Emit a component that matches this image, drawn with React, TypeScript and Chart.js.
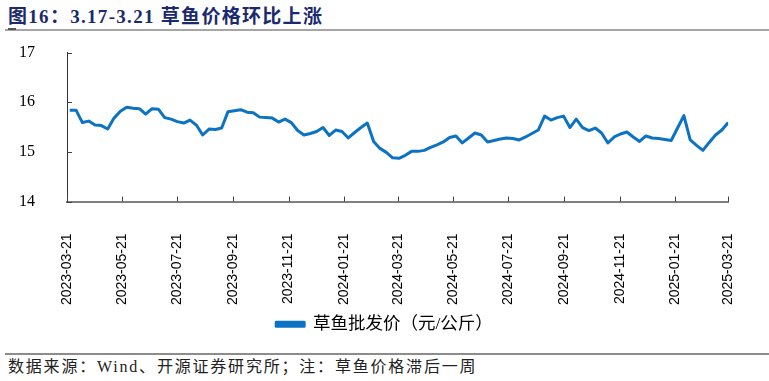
import React, { useEffect, useRef } from "react";
import { Chart, registerables } from "chart.js";

Chart.register(...registerables);

const titleText = "图16：3.17-3.21 草鱼价格环比上涨";
const sourceText = "数据来源：Wind、开源证券研究所；注：草鱼价格滞后一周";
const seriesName = "草鱼批发价（元/公斤）";

const axisStartDate = "2023-03-21";
const firstPointDate = "2023-03-24";
const stepDays = 7;

const tickLabels = [
  "2023-03-21", "2023-05-21", "2023-07-21", "2023-09-21", "2023-11-21",
  "2024-01-21", "2024-03-21", "2024-05-21", "2024-07-21", "2024-09-21",
  "2024-11-21", "2025-01-21", "2025-03-21",
];

const yTickValues = [14, 15, 16, 17];

const prices = [
  15.84, 15.84, 15.59, 15.62, 15.54, 15.53, 15.46, 15.68, 15.82, 15.90,
  15.88, 15.87, 15.76, 15.87, 15.86, 15.69, 15.66, 15.61, 15.58, 15.64,
  15.54, 15.34, 15.46, 15.45, 15.48, 15.81, 15.83, 15.85, 15.80, 15.79,
  15.70, 15.69, 15.68, 15.60, 15.66, 15.59, 15.43, 15.34, 15.37, 15.41,
  15.49, 15.33, 15.44, 15.41, 15.28, 15.39, 15.49, 15.58, 15.21, 15.07,
  14.99, 14.88, 14.87, 14.93, 15.01, 15.01, 15.03, 15.09, 15.14, 15.20,
  15.29, 15.32, 15.18, 15.28, 15.38, 15.34, 15.20, 15.23, 15.26, 15.28,
  15.27, 15.24, 15.30, 15.37, 15.44, 15.72, 15.64, 15.69, 15.72, 15.49,
  15.66, 15.49, 15.43, 15.48, 15.38, 15.18, 15.30, 15.36, 15.40, 15.30,
  15.21, 15.32, 15.28, 15.27, 15.25, 15.23, 15.48, 15.73, 15.24, 15.13,
  15.03, 15.19, 15.34, 15.44, 15.59,
];

const DAY_MS = 86400000;
const dayOf = (s: string) =>
  (Date.parse(s + "T00:00:00Z") - Date.parse(axisStartDate + "T00:00:00Z")) / DAY_MS;

const tickDays = tickLabels.map(dayOf);

const inwardTicks = {
  id: "inwardTicks",
  afterDraw(chart: any) {
    const ctx = chart.ctx;
    const xs = chart.scales.x;
    const ys = chart.scales.y;
    const area = chart.chartArea;
    ctx.save();
    ctx.strokeStyle = "#404040";
    ctx.lineWidth = 1;
    ctx.beginPath();
    xs.ticks.forEach((t: any) => {
      const px = Math.round(xs.getPixelForValue(t.value)) + 0.5;
      ctx.moveTo(px, area.bottom);
      ctx.lineTo(px, area.bottom - 5);
    });
    ys.ticks.forEach((t: any) => {
      const py = Math.round(ys.getPixelForValue(t.value)) + 0.5;
      ctx.moveTo(area.left, py);
      ctx.lineTo(area.left + 5, py);
    });
    ctx.stroke();
    ctx.restore();
  },
};

function PriceChart() {
  const ref = useRef<HTMLCanvasElement | null>(null);
  useEffect(() => {
    if (!ref.current) return;
    const startDay = dayOf(firstPointDate);
    const points = prices.map((v, i) => ({ x: startDay + i * stepDays, y: v }));
    const chart = new Chart(ref.current, {
      type: "line",
      data: {
        datasets: [
          {
            label: seriesName,
            data: points,
            borderColor: "#0C72C2",
            backgroundColor: "#0C72C2",
            borderWidth: 3,
            pointRadius: 0,
            tension: 0,
            borderJoinStyle: "round",
          },
        ],
      },
      options: {
        animation: false,
        responsive: false,
        devicePixelRatio: 1,
        layout: { padding: { top: 0, right: 0, left: 0, bottom: 0 } },
        plugins: {
          tooltip: { enabled: false },
          legend: {
            position: "bottom",
            labels: {
              boxWidth: 28,
              boxHeight: 4,
              padding: 10,
              color: "#000",
              font: { family: '"Liberation Serif", "Noto Sans CJK SC"', size: 17.5 },
            },
          },
        },
        scales: {
          x: {
            type: "linear",
            min: 0,
            max: tickDays[tickDays.length - 1],
            grid: { display: false },
            border: { display: true, color: "#808080", width: 2 },
            afterBuildTicks: (scale: any) => {
              scale.ticks = tickDays.map((v) => ({ value: v }));
            },
            afterFit: (scale: any) => {
              scale.height = 104;
            },
            ticks: {
              autoSkip: false,
              maxRotation: 90,
              minRotation: 90,
              padding: 24,
              color: "#000",
              font: { family: '"Liberation Sans"', size: 14 },
              callback: (value: any) => {
                const idx = tickDays.indexOf(Number(value));
                return idx >= 0 ? tickLabels[idx] : "";
              },
            },
          },
          y: {
            min: 14,
            max: 17,
            grid: { display: false },
            border: { display: true, color: "#333", width: 1 },
            afterBuildTicks: (scale: any) => {
              scale.ticks = yTickValues.map((v) => ({ value: v }));
            },
            afterFit: (scale: any) => {
              scale.width = 67;
            },
            ticks: {
              padding: 24,
              color: "#000",
              font: { family: '"Liberation Serif"', size: 16 },
            },
          },
          yRight: {
            position: "right",
            min: 14,
            max: 17,
            display: true,
            grid: { display: false },
            border: { display: false },
            ticks: { display: false },
            afterFit: (scale: any) => {
              scale.width = 39;
            },
          },
        },
      },
      plugins: [inwardTicks],
    } as any);
    return () => chart.destroy();
  }, []);
  return (
    <canvas
      ref={ref}
      width={769}
      height={324}
      style={{ position: "absolute", left: 0, top: 19, width: 769, height: 324 }}
    />
  );
}

export default function App() {
  return (
    <div
      style={{
        position: "absolute",
        left: 0,
        top: 0,
        width: 769,
        height: 381,
        background: "#fff",
        overflow: "hidden",
      }}
    >
      <div
        style={{
          position: "absolute",
          left: 8,
          top: 5,
          lineHeight: "24px",
          fontSize: 19,
          fontWeight: "bold",
          letterSpacing: "1.3px",
          color: "#1B2A6E",
          fontFamily: '"Liberation Serif", "Noto Sans CJK SC"',
          whiteSpace: "nowrap",
        }}
      >
        {titleText}
      </div>
      <div style={{ position: "absolute", left: 5, top: 29, width: 764, height: 2, background: "#A6A6A6" }} />
      <div style={{ position: "absolute", left: 8, top: 28, width: 8, height: 2, background: "#555" }} />
      <PriceChart />
      <div style={{ position: "absolute", left: 5, top: 353, width: 764, height: 2, background: "#8C8C8C" }} />
      <div
        style={{
          position: "absolute",
          left: 8,
          top: 358,
          lineHeight: "18px",
          fontSize: 16,
          letterSpacing: "1.8px",
          color: "#222",
          fontFamily: '"Liberation Serif", "Noto Sans CJK SC"',
          whiteSpace: "nowrap",
        }}
      >
        {sourceText}
      </div>
    </div>
  );
}
